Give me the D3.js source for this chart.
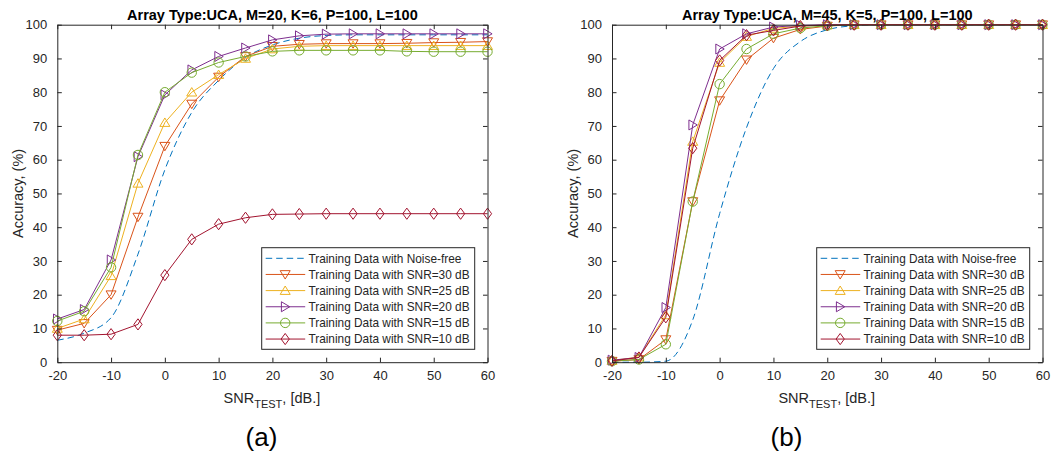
<!DOCTYPE html>
<html>
<head>
<meta charset="utf-8">
<script src="https://cdn.jsdelivr.net/npm/d3@7"></script>
<style>
  body { margin: 0; background: #fff; }
  svg { display: block; }
  text { font-family: "Liberation Sans", Arial, Helvetica, sans-serif; fill: #262626; }
</style>
</head>
<body>
<svg id="fig" width="1051" height="459"></svg>
<script>
// Test SNR grid (dB) shared by both panels
const snrTest = [-20, -15, -10, -5, 0, 5, 10, 15, 20, 25, 30, 35, 40, 45, 50, 55, 60];
const xTicks = [-20, -10, 0, 10, 20, 30, 40, 50, 60];
const yTicks = [0, 10, 20, 30, 40, 50, 60, 70, 80, 90, 100];

const seriesLabels = [
  "Training Data with Noise-free",
  "Training Data with SNR=30 dB",
  "Training Data with SNR=25 dB",
  "Training Data with SNR=20 dB",
  "Training Data with SNR=15 dB",
  "Training Data with SNR=10 dB"
];
const seriesColors = ["#0072BD", "#D95319", "#EDB120", "#7E2F8E", "#77AC30", "#A2142F"];
const seriesMarkers = ["none", "triangleDown", "triangleUp", "triangleRight", "circle", "diamond"];

// Panel (a): UCA, M=20, K=6
const titleA = "Array Type:UCA, M=20, K=6, P=100, L=100";
const accA_noiseFree = [6.5, 8.6, 13.2, 32, 57, 74, 83.5, 90.3, 94, 96, 96.8, 97, 97, 97, 97, 97, 97];
const accA_snr30 = [9.5, 11.5, 20, 43, 64, 76.5, 84.5, 90.6, 93.6, 94.2, 94.4, 94.4, 94.4, 94.5, 94.7, 94.8, 95];
const accA_snr25 = [10, 12.8, 25.6, 53, 71, 80, 85.2, 90, 92.8, 93.6, 93.8, 93.8, 93.8, 93.8, 93.8, 93.8, 93.8];
const accA_snr20 = [12.8, 15.6, 30.3, 60.9, 79.2, 86.6, 90.6, 93.1, 95.5, 96.7, 97.2, 97.3, 97.3, 97.3, 97.3, 97.3, 97.3];
const accA_snr15 = [12.2, 15.1, 28.1, 61.4, 80, 85.8, 88.8, 90.6, 92.1, 92.4, 92.4, 92.4, 92.4, 92.1, 92, 92, 92];
const accA_snr10 = [8, 8, 8.3, 11.2, 25.8, 36.4, 40.9, 42.8, 43.8, 43.9, 44, 44, 44, 44, 44, 44, 44];

// Panel (b): UCA, M=45, K=5
const titleB = "Array Type:UCA, M=45, K=5, P=100, L=100";
const accB_noiseFree = [0, 0, 0.3, 12.5, 44, 69.5, 87, 95, 98.5, 99.7, 100, 100, 100, 100, 100, 100, 100];
const accB_snr30 = [0.3, 0.8, 6.7, 47.6, 77.5, 89.6, 96, 98.6, 99.6, 100, 100, 100, 100, 100, 100, 100, 100];
const accB_snr25 = [0.5, 1.5, 14, 65.4, 88.8, 96.5, 98.9, 99.6, 99.9, 100, 100, 100, 100, 100, 100, 100, 100];
const accB_snr20 = [0.6, 1.4, 16.2, 70.3, 92.8, 97.3, 99.3, 99.8, 100, 100, 100, 100, 100, 100, 100, 100, 100];
const accB_snr15 = [0.3, 0.8, 5.3, 47.6, 82.4, 92.8, 97.3, 99, 99.7, 100, 100, 100, 100, 100, 100, 100, 100];
const accB_snr10 = [0.4, 1.4, 13.3, 63.4, 89.4, 96.9, 98.3, 99.6, 99.9, 100, 100, 100, 100, 100, 100, 100, 100];

const svg = d3.select("#fig");
const axisColor = "#262626";
// Plain hyphen-minus for negative tick labels
const tickFmt = v => String(v);

// Open marker shapes, centred on the data point
function markerPath(type) {
  switch (type) {
    case "triangleDown": return "M-5,-3.8L5,-3.8L0,4.6Z";
    case "triangleUp": return "M-5,3.8L5,3.8L0,-4.6Z";
    case "triangleRight": return "M-3.8,-5L-3.8,5L4.6,0Z";
    case "diamond": return "M0,-5.6L4.1,0L0,5.6L-4.1,0Z";
    case "circle": return "M4.7,0A4.7,4.7 0 1,1 -4.7,0A4.7,4.7 0 1,1 4.7,0Z";
    default: return null;
  }
}

function drawPanel(cfg) {
  const { left, right, top, bottom, title, series, tag, tagX } = cfg;
  const x = d3.scaleLinear().domain([-20, 60]).range([left, right]);
  const y = d3.scaleLinear().domain([0, 100]).range([bottom, top]);
  const g = svg.append("g");
  const tickLen = 4.5;

  // Series lines and markers
  const clipId = "clip-" + tag.replace(/[()]/g, "");
  svg.append("defs").append("clipPath").attr("id", clipId)
    .append("rect").attr("x", left - 8).attr("y", top - 8)
    .attr("width", right - left + 16).attr("height", bottom - top + 16);
  const plot = g.append("g").attr("clip-path", `url(#${clipId})`);

  series.forEach((vals, i) => {
    const pts = snrTest.map((s, k) => [s, vals[k]]);
    const line = d3.line()
      .x(d => x(d[0])).y(d => y(d[1]))
      .curve(i === 0 ? d3.curveMonotoneX : d3.curveLinear);
    plot.append("path")
      .attr("d", line(pts))
      .attr("fill", "none")
      .attr("stroke", seriesColors[i])
      .attr("stroke-width", 1)
      .attr("stroke-dasharray", i === 0 ? "6.5,4" : null);
    const mp = markerPath(seriesMarkers[i]);
    if (mp) {
      plot.selectAll(null).data(pts).enter().append("path")
        .attr("d", mp)
        .attr("transform", d => `translate(${x(d[0])},${y(d[1])})`)
        .attr("fill", "none")
        .attr("stroke", seriesColors[i])
        .attr("stroke-width", 1);
    }
  });

  // Axes box with inward ticks on all four sides
  const bottomAxis = d3.axisBottom(x).tickValues(xTicks).tickFormat(tickFmt).tickSizeInner(-tickLen).tickSizeOuter(0).tickPadding(9);
  const topAxis = d3.axisTop(x).tickValues(xTicks).tickSizeInner(-tickLen).tickSizeOuter(0).tickFormat("");
  const leftAxis = d3.axisLeft(y).tickValues(yTicks).tickFormat(tickFmt).tickSizeInner(-tickLen).tickSizeOuter(0).tickPadding(10);
  const rightAxis = d3.axisRight(y).tickValues(yTicks).tickSizeInner(-tickLen).tickSizeOuter(0).tickFormat("");

  const axes = [
    g.append("g").attr("transform", `translate(0,${bottom})`).call(bottomAxis),
    g.append("g").attr("transform", `translate(0,${top})`).call(topAxis),
    g.append("g").attr("transform", `translate(${left},0)`).call(leftAxis),
    g.append("g").attr("transform", `translate(${right},0)`).call(rightAxis)
  ];
  axes.forEach(a => {
    a.selectAll(".domain").attr("stroke", axisColor).attr("stroke-width", 1);
    a.selectAll(".tick line").attr("stroke", axisColor).attr("stroke-width", 1);
    a.selectAll(".tick text").attr("fill", axisColor)
      .style("font-size", "13px").style("font-family", '"Liberation Sans", Arial, sans-serif');
  });

  // Title
  g.append("text")
    .attr("x", (left + right) / 2).attr("y", 19.5)
    .attr("text-anchor", "middle")
    .style("font-size", "14.5px").style("font-weight", "bold").style("fill", "#000")
    .text(title);

  // X axis label with subscript
  const xl = g.append("text")
    .attr("x", (left + right) / 2 - 0.5).attr("y", 403)
    .attr("text-anchor", "middle")
    .style("font-size", "14.5px");
  xl.append("tspan").text("SNR");
  xl.append("tspan").attr("dy", 4.5).style("font-size", "11px").text("TEST");
  xl.append("tspan").attr("dy", -4.5).text(", [dB.]");

  // Y axis label
  g.append("text")
    .attr("transform", `translate(${left - 34.5},${(top + bottom) / 2}) rotate(-90)`)
    .attr("text-anchor", "middle")
    .style("font-size", "14.5px")
    .text("Accuracy, (%)");

  // Legend
  const lw = 213, rowH = 16.15;
  const lx = right - 12.8 - lw, ly = 247.7;
  const lg = g.append("g");
  lg.append("rect")
    .attr("x", lx).attr("y", ly).attr("width", lw).attr("height", 101.6)
    .attr("fill", "#fff").attr("stroke", axisColor).attr("stroke-width", 1);
  seriesLabels.forEach((lab, i) => {
    const ry = ly + 10.6 + i * rowH;
    lg.append("line")
      .attr("x1", lx + 4).attr("x2", lx + 43.5).attr("y1", ry).attr("y2", ry)
      .attr("stroke", seriesColors[i]).attr("stroke-width", 1)
      .attr("stroke-dasharray", i === 0 ? "6.5,4" : null);
    const mp = markerPath(seriesMarkers[i]);
    if (mp) {
      lg.append("path").attr("d", mp)
        .attr("transform", `translate(${lx + 23.5},${ry})`)
        .attr("fill", "none").attr("stroke", seriesColors[i]).attr("stroke-width", 1);
    }
    lg.append("text")
      .attr("x", lx + 46.7).attr("y", ry + 4.2)
      .style("font-size", "11.85px")
      .text(lab);
  });

  // Panel tag
  g.append("text")
    .attr("x", tagX).attr("y", 446.4)
    .attr("text-anchor", "middle")
    .style("font-size", "26px").style("fill", "#000")
    .text(tag);
}

drawPanel({
  left: 57.3, right: 487.5, top: 24.7, bottom: 362.2,
  title: titleA,
  series: [accA_noiseFree, accA_snr30, accA_snr25, accA_snr20, accA_snr15, accA_snr10],
  tag: "(a)", tagX: 261.5
});
drawPanel({
  left: 612, right: 1042.5, top: 24.7, bottom: 362.2,
  title: titleB,
  series: [accB_noiseFree, accB_snr30, accB_snr25, accB_snr20, accB_snr15, accB_snr10],
  tag: "(b)", tagX: 786.5
});
</script>
</body>
</html>
